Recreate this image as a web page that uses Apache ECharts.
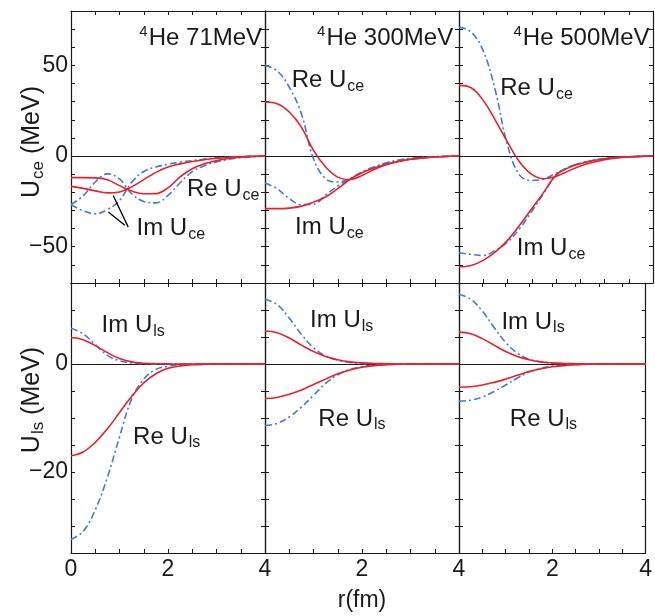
<!DOCTYPE html>
<html><head><meta charset="utf-8">
<script src="https://cdn.jsdelivr.net/npm/echarts@6/dist/echarts.min.js"></script>
<style>html,body{margin:0;padding:0;background:#fff}#c{width:655px;height:616px}</style>
</head><body><div id="c"></div>
<script>
// radius grid (fm)
const r = [0,0.25,0.5,0.75,1,1.25,1.5,1.75,2,2.25,2.5,2.75,3,3.25,3.5,3.75,4];

// U_ce, 4He 71 MeV
const ceRe71_red  = [-11.9,-11.9,-12,-13,-16.3,-19.3,-20.8,-20.7,-17.5,-11.5,-7,-4.3,-2.5,-1.3,-0.6,-0.2,0];
const ceIm71_red  = [-16.7,-17.8,-19.2,-20.3,-19.8,-17,-13,-9,-6,-4.3,-3,-2,-1.2,-0.7,-0.35,-0.15,0];
const ceRe71_blue = [-26.7,-22,-14.3,-9.8,-12.6,-20.8,-25,-25.8,-21.7,-14.7,-8.6,-5.3,-3.2,-1.8,-0.9,-0.4,0];
const ceIm71_blue = [-26.7,-30.2,-31.8,-29.5,-24.5,-14.5,-8.5,-6,-4.5,-3.3,-2.5,-1.7,-1,-0.6,-0.3,-0.1,0];
// U_ce, 4He 300 MeV
const ceRe300_red  = [29.8,28.9,24.3,16,3.1,-6,-11.6,-12.9,-10.7,-7.4,-4.8,-3,-1.8,-1,-0.5,-0.2,0];
const ceIm300_red  = [-29,-29,-28.7,-27.6,-25.4,-22.6,-18,-12.9,-9.2,-6.6,-4.5,-3,-1.8,-1,-0.5,-0.2,0];
const ceRe300_blue = [50,47,38,23.3,-1.5,-12.5,-14.3,-12.5,-8.8,-6,-3.7,-2.2,-1.3,-0.7,-0.3,-0.1,0];
const ceIm300_blue = [-14.9,-18,-23.5,-26.7,-26.5,-21.5,-16.5,-12.5,-8.8,-6.2,-4.2,-2.7,-1.6,-0.9,-0.45,-0.15,0];
// U_ce, 4He 500 MeV
const ceRe500_red  = [39,37.7,30.7,19.7,7.7,-3.3,-10.1,-12.5,-11.2,-8.3,-5.5,-3.5,-2,-1.1,-0.5,-0.2,0];
const ceIm500_red  = [-61.2,-60.3,-57.5,-52.9,-46.5,-38.2,-29,-19.9,-10.5,-6.5,-4.2,-2.6,-1.5,-0.8,-0.4,-0.15,0];
const ceRe500_blue = [71.1,68.4,58,36,6,-10.5,-13.4,-12.6,-9.5,-6.3,-4,-2.5,-1.5,-0.8,-0.4,-0.15,0];
const ceIm500_blue = [-53.3,-54.2,-54.8,-52,-47.5,-40,-30.5,-20.5,-10.5,-6.3,-4,-2.5,-1.4,-0.75,-0.35,-0.12,0];

// U_ls, 4He 71 MeV
const lsIm71_red  = [4.9,4.5,3.4,2.1,1.0,0.4,0.15,0.05,0.02,0,0,0,0,0,0,0,0];
const lsRe71_red  = [-17,-16.3,-14.5,-12,-9,-6,-3.5,-1.8,-0.8,-0.35,-0.15,-0.05,0,0,0,0,0];
const lsIm71_blue = [6.6,5.6,3.6,1.6,0.6,0.2,0.05,0,0,0,0,0,0,0,0,0,0];
const lsRe71_blue = [-32.5,-31,-27,-21,-13.5,-6.5,-2.8,-1,-0.4,-0.15,-0.05,0,0,0,0,0,0];
// U_ls, 4He 300 MeV
const lsIm300_red  = [6.1,5.8,4.8,3.5,2.3,1.4,0.8,0.4,0.2,0.1,0.05,0,0,0,0,0,0];
const lsRe300_red  = [-6.4,-6.2,-5.6,-4.8,-3.8,-2.8,-1.8,-1.1,-0.6,-0.3,-0.15,-0.05,-0.03,0,0,0,0];
const lsIm300_blue = [12,11,8.5,5.5,3,1.5,0.7,0.3,0.1,0.03,0,0,0,0,0,0,0];
const lsRe300_blue = [-11.4,-11,-9.8,-8,-5.8,-3.6,-2,-1,-0.5,-0.25,-0.1,-0.05,0,0,0,0,0];
// U_ls, 4He 500 MeV
const lsIm500_red  = [5.9,5.6,4.7,3.5,2.3,1.4,0.8,0.4,0.2,0.1,0.05,0,0,0,0,0,0];
const lsRe500_red  = [-4.3,-4.2,-3.9,-3.4,-2.8,-2.1,-1.4,-0.9,-0.5,-0.3,-0.15,-0.05,-0.03,0,0,0,0];
const lsIm500_blue = [12.9,12,9.8,6.8,4,2,0.9,0.4,0.15,0.05,0.02,0,0,0,0,0,0];
const lsRe500_blue = [-6.9,-6.7,-6.1,-5.1,-3.9,-2.6,-1.5,-0.8,-0.4,-0.2,-0.08,-0.03,0,0,0,0,0];

const energies = ['71MeV','300MeV','500MeV'];
const yRangeCe = [-70, 80, 10];
const yRangeLs = [-35, 15, 5];

const panels = [
  {red:[ceRe71_red, ceIm71_red],   blue:[ceRe71_blue, ceIm71_blue]},
  {red:[ceRe300_red, ceIm300_red], blue:[ceRe300_blue, ceIm300_blue]},
  {red:[ceRe500_red, ceIm500_red], blue:[ceRe500_blue, ceIm500_blue]},
  {red:[lsIm71_red, lsRe71_red],   blue:[lsIm71_blue, lsRe71_blue]},
  {red:[lsIm300_red, lsRe300_red], blue:[lsIm300_blue, lsRe300_blue]},
  {red:[lsIm500_red, lsRe500_red], blue:[lsIm500_blue, lsRe500_blue]}
];

const FONT = 'Liberation Sans, Arial, Helvetica, sans-serif';
const INK = '#1a1a1a';
const RED = '#e8212b';
const BLUE = '#3f7dd0';
const rich = {
  m: {fontSize: 24, fontFamily: FONT, color: INK},
  s: {fontSize: 16, fontFamily: FONT, color: INK, padding: [12, 0, 0, 1]},
  sup: {fontSize: 15, fontFamily: FONT, color: INK, padding: [0, 1, 12, 0]}
};
const richName = {
  m: {fontSize: 25, fontFamily: FONT, color: INK},
  s: {fontSize: 17, fontFamily: FONT, color: INK, padding: [12, 0, 0, 1]}
};
const minus = v => v < 0 ? '\u2212' + Math.abs(v) : String(v);

const L = [71, 265, 459], W = 194, T = [11, 283], H = [272, 270];
const grids = [], xAxes = [], yAxes = [], series = [];
const axisLine = {show: true, onZero: false, lineStyle: {color: INK, width: 1.2}};
const axisTick = {show: true, inside: true, length: 4, lineStyle: {color: INK, width: 1}};

for (let row = 0; row < 2; row++) {
  for (let col = 0; col < 3; col++) {
    const gi = row * 3 + col;
    const yr = row === 0 ? yRangeCe : yRangeLs;
    grids.push({left: L[col], top: T[row], width: W, height: H[row], containLabel: false});
    const xb = {
      gridIndex: gi, type: 'value', min: 0, max: 4, interval: 0.5, position: 'bottom',
      axisLine, axisTick, splitLine: {show: false},
      axisLabel: {show: row === 1, fontSize: 23, fontFamily: FONT, color: INK, margin: 5,
        formatter: v => (v % 2 === 0 && (col === 0 || v > 0)) ? String(v) : ''}
    };
    if (gi === 4) {
      xb.name = 'r(fm)'; xb.nameLocation = 'middle'; xb.nameGap = 36; xb.nameMoveOverlap = false;
      xb.nameTextStyle = {fontSize: 23, fontFamily: FONT, color: INK};
    }
    xAxes.push(xb);
    xAxes.push({gridIndex: gi, type: 'value', min: 0, max: 4, interval: 0.5, position: 'top',
      axisLine, axisTick, splitLine: {show: false}, axisLabel: {show: false}});
    const yl = {
      gridIndex: gi, type: 'value', min: yr[0], max: yr[1], interval: yr[2], position: 'left',
      axisLine, axisTick, splitLine: {show: false},
      axisLabel: {show: col === 0, fontSize: 23, fontFamily: FONT, color: INK, margin: 3,
        formatter: v => (v % (row === 0 ? 50 : 20) === 0) ? minus(v) : ''}
    };
    if (col === 0) {
      yl.name = row === 0 ? '{m|U}{s|ce}{m| (MeV)}' : '{m|U}{s|ls}{m| (MeV)}';
      yl.nameLocation = 'middle'; yl.nameRotate = 90; yl.nameGap = 24; yl.nameMoveOverlap = false;
      yl.nameTextStyle = {rich: richName, padding: row === 0 ? [0, 0, 0, 10] : [0, 0, 0, 36]};
    }
    yAxes.push(yl);
    yAxes.push({gridIndex: gi, type: 'value', min: yr[0], max: yr[1], interval: yr[2], position: 'right',
      axisLine, axisTick, splitLine: {show: false}, axisLabel: {show: false}});

    const p = panels[gi];
    p.blue.forEach((arr, k) => series.push({
      type: 'line', xAxisIndex: gi * 2, yAxisIndex: gi * 2, showSymbol: false, smooth: 0.4,
      data: r.map((x, i) => [x, arr[i]]), silent: true,
      lineStyle: {color: BLUE, width: 1.6, type: [7, 3, 2, 3]}, z: 3
    }));
    p.red.forEach((arr, k) => series.push({
      type: 'line', xAxisIndex: gi * 2, yAxisIndex: gi * 2, showSymbol: false, smooth: 0.4,
      data: r.map((x, i) => [x, arr[i]]), silent: true,
      lineStyle: {color: RED, width: 1.6, type: 'solid'}, z: 4,
      markLine: k === 0 ? {silent: true, symbol: 'none', label: {show: false},
        lineStyle: {color: INK, width: 1.1, type: 'solid'}, data: [{yAxis: 0}], z: 2} : undefined
    }));
  }
}

const chart = echarts.init(document.getElementById('c'), null, {renderer: 'canvas'});
chart.setOption({animation: false, grid: grids, xAxis: xAxes, yAxis: yAxes, series});

// annotations anchored in data coordinates
const labels = [
  {g: 0, at: [3.94, 65], t: '{sup|4}{m|He ' + energies[0] + '}', align: 'right'},
  {g: 1, at: [3.88, 65], t: '{sup|4}{m|He ' + energies[1] + '}', align: 'right'},
  {g: 2, at: [3.93, 65], t: '{sup|4}{m|He ' + energies[2] + '}', align: 'right'},
  {g: 0, at: [2.39, -18.4], t: '{m|Re U}{s|ce}'},
  {g: 0, at: [1.35, -39.9], t: '{m|Im U}{s|ce}'},
  {g: 1, at: [0.55, 41.8], t: '{m|Re U}{s|ce}'},
  {g: 1, at: [0.62, -39.3], t: '{m|Im U}{s|ce}'},
  {g: 2, at: [0.85, 37.3], t: '{m|Re U}{s|ce}'},
  {g: 2, at: [1.19, -50.9], t: '{m|Im U}{s|ce}'},
  {g: 3, at: [0.63, 7.2], t: '{m|Im U}{s|ls}'},
  {g: 3, at: [1.28, -13.5], t: '{m|Re U}{s|ls}'},
  {g: 4, at: [0.93, 8.0], t: '{m|Im U}{s|ls}'},
  {g: 4, at: [1.10, -10.2], t: '{m|Re U}{s|ls}'},
  {g: 5, at: [0.91, 7.8], t: '{m|Im U}{s|ls}'},
  {g: 5, at: [1.09, -10.2], t: '{m|Re U}{s|ls}'}
];
const pointers = [
  {g: 0, from: [1.18, -39.2], to: [0.87, -21.7]},
  {g: 0, from: [1.11, -38.2], to: [0.77, -30.9]}
];
const px = (g, pt) => chart.convertToPixel({xAxisIndex: g * 2, yAxisIndex: g * 2}, pt);
const graphic = [];
labels.forEach(l => {
  const q = px(l.g, l.at);
  graphic.push({type: 'text', x: q[0], y: q[1], z: 10, silent: true,
    style: {text: l.t, rich, align: l.align || 'left', verticalAlign: 'middle', fill: INK}});
});
pointers.forEach(pt => {
  const a = px(pt.g, pt.from), b = px(pt.g, pt.to);
  graphic.push({type: 'line', z: 10, silent: true,
    shape: {x1: a[0], y1: a[1], x2: b[0], y2: b[1]}, style: {stroke: '#000', lineWidth: 1.3}});
});
chart.setOption({graphic});
</script>
</body></html>
